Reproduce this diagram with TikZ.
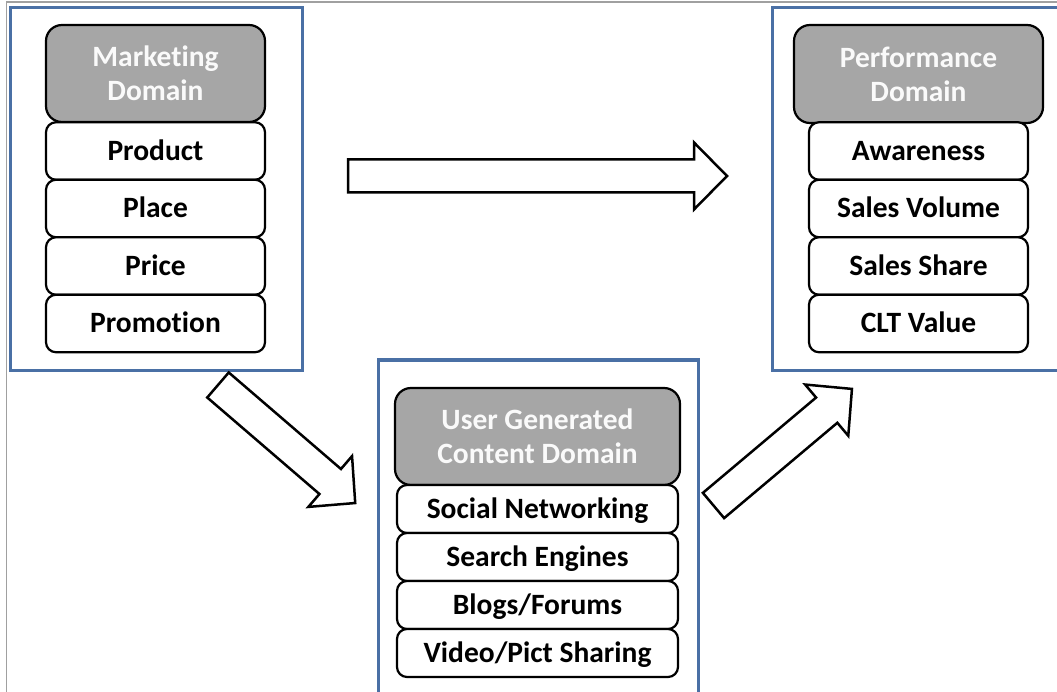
\documentclass[tikz,border=0pt]{standalone}
\usepackage{fontspec}
\setmainfont{Carlito}[Ligatures=NoCommon]
\definecolor{frameblue}{RGB}{74,112,165}
\definecolor{hdrgray}{RGB}{166,166,166}
\definecolor{hdrtext}{RGB}{250,250,250}
\definecolor{edgegray}{RGB}{160,160,160}
\tikzset{
  frame/.style={draw=frameblue, line width=3pt, inner sep=0pt},
  hdr/.style={draw=black, line width=2.2pt, rounded corners=16pt, fill=hdrgray, text=hdrtext,
    font=\bfseries\fontsize{29.5}{34}\selectfont, align=center, inner sep=0pt},
  item/.style={draw=black, line width=2.2pt, rounded corners=10pt, fill=white,
    font=\bfseries\fontsize{29.5}{34}\selectfont, inner sep=0pt, text height=19pt, text depth=0pt},
  blockarrow/.style={draw=black, line width=2.5pt, fill=white, line join=miter},
  pics/barrow/.style={code={
    \path[blockarrow] (0,-16.5) -- ({#1-33},-16.5) -- ({#1-33},-33.5) -- (#1,0)
      -- ({#1-33},33.5) -- ({#1-33},16.5) -- (0,16.5) -- cycle;}}
}
\begin{document}
\begin{tikzpicture}[x=1pt,y=-1pt]
\useasboundingbox (0,0) rectangle (1057,692);
\clip (0,0) rectangle (1057,692);
\fill[white] (0,0) rectangle (1057,692);
\draw[edgegray, line width=1.5pt] (6.5,692) -- (6.5,2) -- (1057,2);

% frames
\node[frame, minimum width=292pt, minimum height=362pt] (mframe) at (156,189) {};
\node[frame, minimum width=290pt, minimum height=362pt] (pframe) at (917,189) {};
\node[frame, minimum width=320pt, minimum height=342pt] (uframe) at (538,531) {};

% marketing stack
\node[hdr, minimum width=219pt, minimum height=97pt] (mh) at (155.5,73.5) {Marketing\\Domain};
\node[item, minimum width=219pt, minimum height=57.5pt] (m1) at (155.5,151) {Product};
\node[item, minimum width=219pt, minimum height=57.5pt] (m2) at (155.5,208.5) {Place};
\node[item, minimum width=219pt, minimum height=57.5pt] (m3) at (155.5,266) {Price};
\node[item, minimum width=219pt, minimum height=57.5pt] (m4) at (155.5,323.5) {Promotion};

% performance stack
\node[hdr, minimum width=249pt, minimum height=98pt] (ph) at (918.5,74) {Performance\\Domain};
\node[item, minimum width=219pt, minimum height=57.5pt] (p1) at (918.5,151) {Awareness};
\node[item, minimum width=219pt, minimum height=57.5pt] (p2) at (918.5,208.5) {Sales Volume};
\node[item, minimum width=219pt, minimum height=57.5pt] (p3) at (918.5,266) {Sales Share};
\node[item, minimum width=219pt, minimum height=57.5pt] (p4) at (918.5,323.5) {CLT Value};

% user generated content stack
\node[hdr, minimum width=285pt, minimum height=97pt] (uh) at (537.5,436.5) {User Generated\\Content Domain};
\node[item, minimum width=281pt, minimum height=48pt] (u1) at (537.5,509) {Social Networking};
\node[item, minimum width=281pt, minimum height=48pt] (u2) at (537.5,557) {Search Engines};
\node[item, minimum width=281pt, minimum height=48pt] (u3) at (537.5,605) {Blogs/Forums};
\node[item, minimum width=281pt, minimum height=48pt] (u4) at (537.5,653) {Video/Pict Sharing};

% block arrows
\coordinate (a1) at (348,176);
\coordinate (a2) at (218,385);
\coordinate (a3) at (713.5,505.5);
\pic at (a1) {barrow=379};
\pic[rotate=-40.7] at (a2) {barrow=181};
\pic[rotate=40.1] at (a3) {barrow=181};
\end{tikzpicture}
\end{document}
